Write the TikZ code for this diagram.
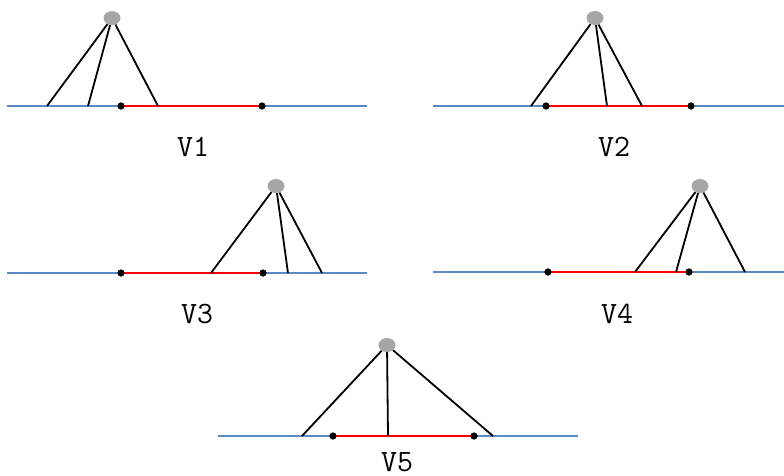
\documentclass[tikz,border=0pt]{standalone}
\usepackage{xcolor}
\usepackage{tikz}
\usetikzlibrary{shapes.geometric}
\definecolor{baseblue}{RGB}{88,138,196}
\definecolor{apexgrey}{RGB}{166,166,166}

\begin{document}
\begin{tikzpicture}[x=1pt, y=-1pt,
    baseline/.style={baseblue, line width=1.9pt},
    span/.style={red, line width=2pt},
    leg/.style={black, line width=1.8pt},
    endpt/.style={circle, fill=black, inner sep=0pt, minimum size=7pt},
    apex/.style={ellipse, fill=apexgrey, inner sep=0pt,
      minimum width=17pt, minimum height=14pt},
    tag/.style={font=\fontsize{31}{31}\selectfont\ttfamily}]
  \useasboundingbox (0,0) rectangle (784,475);

  % ── Panel V1 ──────────────────────────
  \begin{scope}[shift={(0,106)}]
    \coordinate (l1) at (7,0);
    \coordinate (r1) at (367,0);
    \draw[baseline] (l1) -- (r1);
    \node[endpt] (a1) at (121,0) {};
    \node[endpt] (b1) at (262,0) {};
    \draw[span] (a1.center) -- (b1.center);
    \node[apex] (p1) at (112,-88) {};
    \coordinate (f11) at (47,0);
    \coordinate (f12) at (88,0);
    \coordinate (f13) at (158,0);
    \draw[leg] (p1) -- (f11);
    \draw[leg] (p1) -- (f12);
    \draw[leg] (p1) -- (f13);
    \node[endpt] at (a1) {};
    \node[endpt] at (b1) {};
    \node[tag] (v1) at (193,41) {V1};
  \end{scope}

  % ── Panel V2 ──────────────────────────
  \begin{scope}[shift={(0,106)}]
    \coordinate (l2) at (433,0);
    \coordinate (r2) at (784,0);
    \draw[baseline] (l2) -- (r2);
    \node[endpt] (a2) at (546,0) {};
    \node[endpt] (b2) at (691,0) {};
    \draw[span] (a2.center) -- (b2.center);
    \node[apex] (p2) at (595,-88) {};
    \coordinate (f21) at (531,0);
    \coordinate (f22) at (607,0);
    \coordinate (f23) at (642,0);
    \draw[leg] (p2) -- (f21);
    \draw[leg] (p2) -- (f22);
    \draw[leg] (p2) -- (f23);
    \node[endpt] at (a2) {};
    \node[endpt] at (b2) {};
    \node[tag] (v2) at (614,41) {V2};
  \end{scope}

  % ── Panel V3 ──────────────────────────
  \begin{scope}[shift={(0,273)}]
    \coordinate (l3) at (7,0);
    \coordinate (r3) at (367,0);
    \draw[baseline] (l3) -- (r3);
    \node[endpt] (a3) at (121,0) {};
    \node[endpt] (b3) at (263,0) {};
    \draw[span] (a3.center) -- (b3.center);
    \node[apex] (p3) at (276,-87) {};
    \coordinate (f31) at (211,0);
    \coordinate (f32) at (288,0);
    \coordinate (f33) at (322,0);
    \draw[leg] (p3) -- (f31);
    \draw[leg] (p3) -- (f32);
    \draw[leg] (p3) -- (f33);
    \node[endpt] at (a3) {};
    \node[endpt] at (b3) {};
    \node[tag] (v3) at (197,41) {V3};
  \end{scope}

  % ── Panel V4 ──────────────────────────
  \begin{scope}[shift={(0,272)}]
    \coordinate (l4) at (433,0);
    \coordinate (r4) at (784,0);
    \draw[baseline] (l4) -- (r4);
    \node[endpt] (a4) at (548,0) {};
    \node[endpt] (b4) at (689,0) {};
    \draw[span] (a4.center) -- (b4.center);
    \node[apex] (p4) at (700,-86) {};
    \coordinate (f41) at (635,0);
    \coordinate (f42) at (676,0);
    \coordinate (f43) at (745,0);
    \draw[leg] (p4) -- (f41);
    \draw[leg] (p4) -- (f42);
    \draw[leg] (p4) -- (f43);
    \node[endpt] at (a4) {};
    \node[endpt] at (b4) {};
    \node[tag] (v4) at (617,42) {V4};
  \end{scope}

  % ── Panel V5 ──────────────────────────
  \begin{scope}[shift={(0,436)}]
    \coordinate (l5) at (218,0);
    \coordinate (r5) at (578,0);
    \draw[baseline] (l5) -- (r5);
    \node[endpt] (a5) at (333,0) {};
    \node[endpt] (b5) at (474,0) {};
    \draw[span] (a5.center) -- (b5.center);
    \node[apex] (p5) at (387,-91) {};
    \coordinate (f51) at (302,0);
    \coordinate (f52) at (388,0);
    \coordinate (f53) at (493,0);
    \draw[leg] (p5) -- (f51);
    \draw[leg] (p5) -- (f52);
    \draw[leg] (p5) -- (f53);
    \node[endpt] at (a5) {};
    \node[endpt] at (b5) {};
    \node[tag] (v5) at (397,26) {V5};
  \end{scope}
\end{tikzpicture}
\end{document}
